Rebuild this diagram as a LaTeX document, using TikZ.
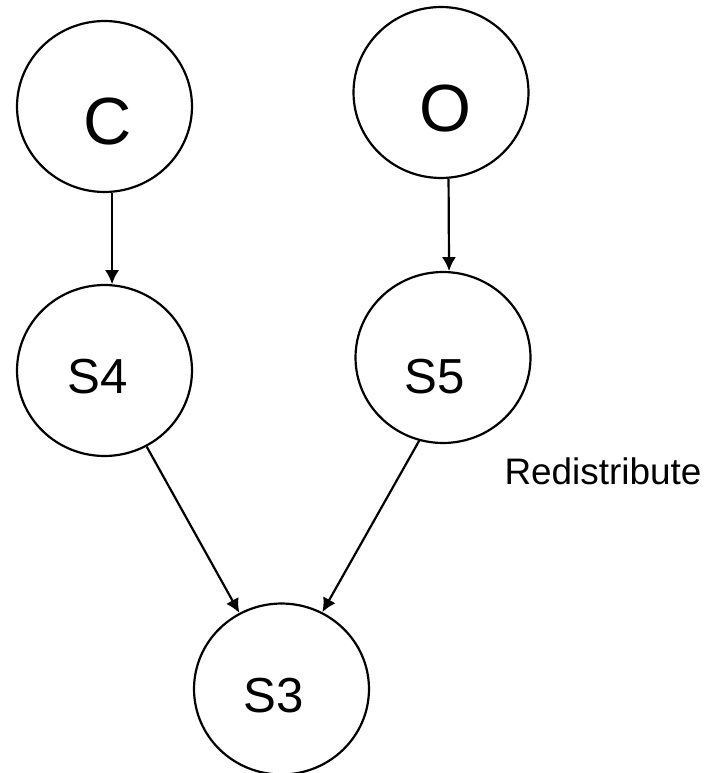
\documentclass[tikz,border=0pt]{standalone}
\usepackage{fontspec}
\setmainfont{Liberation Sans}
\usetikzlibrary{shapes,arrows.meta}
\tikzstyle{State} = [draw, ellipse, line width=1.25pt, minimum width=3.5cm, minimum height=3.42cm, inner sep=0pt]
\tikzstyle{Big}   = [font=\fontsize{38}{40}\selectfont]
\tikzstyle{Small} = [font=\fontsize{28}{30}\selectfont]
\tikzstyle{Text}  = [font=\fontsize{21}{24}\selectfont]

\begin{document}
\begin{tikzpicture}[x=0.02cm, y=-0.02cm, >={Latex[length=8pt,width=8pt]}, line width=1.25pt]
    \useasboundingbox (0,0) rectangle (714,773);
    \node[State, label={[Big,   shift={(3,15.5)}]center:C}]   (C)  at (104.5,106.5) {};
    \node[State, label={[Big,   shift={(4.5,16.5)}]center:O}] (O)  at (441,92.5)    {};
    \node[State, label={[Small, shift={(-6.5,6.5)}]center:S4}] (S4) at (104.5,370.5) {};
    \node[State, label={[Small, shift={(-8,19.5)}]center:S5}]  (S5) at (443,357.5)   {};
    \node[State, label={[Small, shift={(-7.5,6.5)}]center:S3}] (S3) at (281.5,689)   {};
    \node[Text] (redist) at (603,471) {Redistribute};
    \draw[->] (C.-85)   to (S4.85);
    \draw[->] (O.-85)   to (S5.86.3);
    \draw[->] (S4.-61)  to (S3.119);
    \draw[->] (S5.-106) to (S3.62);
  \end{tikzpicture}
\end{document}
